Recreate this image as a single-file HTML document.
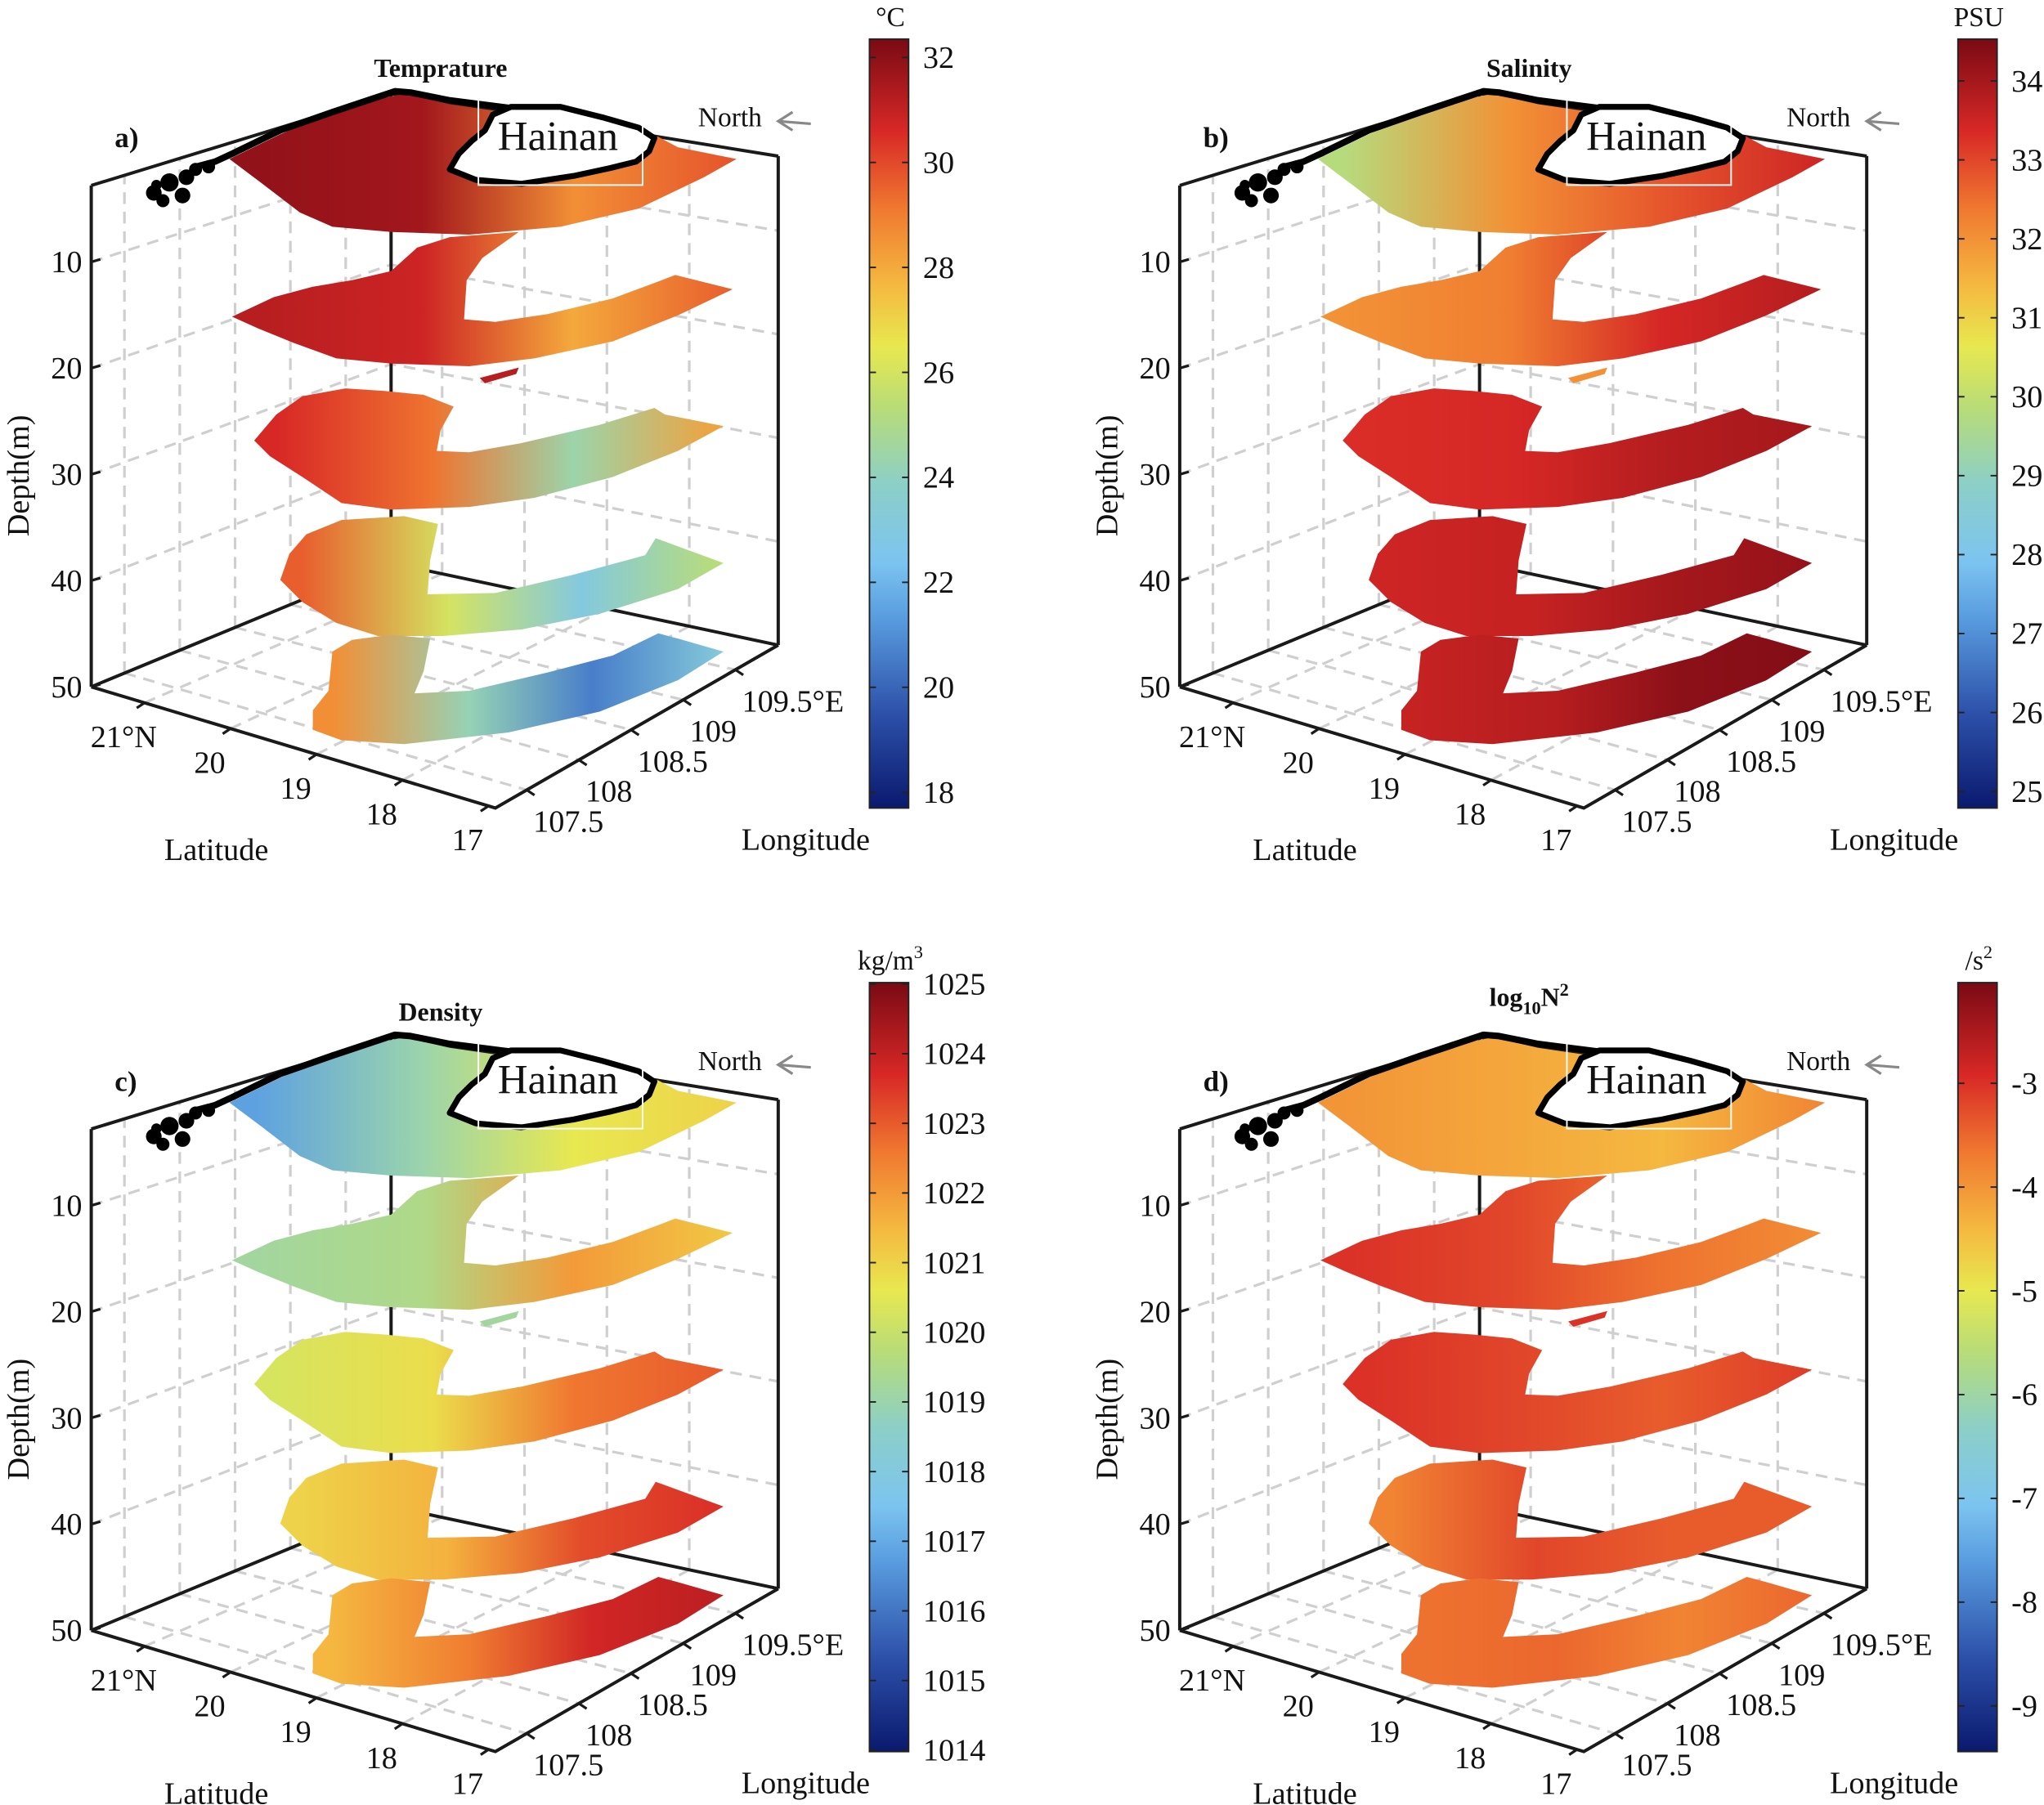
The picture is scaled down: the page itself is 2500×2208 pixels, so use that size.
<!DOCTYPE html>
<html><head><meta charset="utf-8"><style>
html,body{margin:0;padding:0;background:#fff;}
svg{display:block;}
text{font-family:"Liberation Serif","DejaVu Serif",serif;}
</style></head><body>
<svg id="fig" width="2500" height="2208" viewBox="0 0 1568 1385" preserveAspectRatio="none" font-family="Liberation Serif, serif" xmlns="http://www.w3.org/2000/svg"><defs id="defs"></defs></svg>
<script>
// ---- data arrays ----
const panelTitles = ["Temprature","Salinity","Density","log10N2"];
const panelLetters = ["a)","b)","c)","d)"];
const cbDomainA = [17.7, 32.35];
const cbDomainB = [24.79, 34.53];
const cbDomainC = [1013.98, 1025.02];
const cbDomainD = [-9.44, -2.03];
const cbTicksA = [18,20,22,24,26,28,30,32];
const cbTicksB = [25,26,27,28,29,30,31,32,33,34];
const cbTicksC = [1014,1015,1016,1017,1018,1019,1020,1021,1022,1023,1024,1025];
const cbTicksD = [-9,-8,-7,-6,-5,-4,-3];
// slice values: per slice [west blob, blob edge, band, east tip]
const sliceValsA = [[31.9,31.6,28.6,29.8],[31.2,30.8,28.0,29.6],[30.6,29.2,24.4,28.2],[29.6,26.0,23.0,25.4],[28.6,24.2,20.6,23.2]];
const sliceValsB = [[29.8,32.0,32.8,33.5],[32.0,32.3,33.4,33.8],[33.3,33.4,33.8,34.0],[33.5,33.6,34.0,34.2],[33.6,33.8,34.3,34.4]];
const sliceValsC = [[1016.8,1019.0,1020.6,1021.0],[1019.2,1019.5,1022.0,1021.2],[1020.3,1020.8,1022.6,1023.0],[1021.0,1021.6,1023.2,1023.6],[1021.5,1022.5,1023.8,1024.1]];
const sliceValsD = [[-4.0,-4.2,-4.4,-3.8],[-3.0,-3.2,-3.6,-3.9],[-3.0,-3.2,-3.4,-3.1],[-3.8,-3.2,-3.4,-3.4],[-3.6,-3.5,-3.8,-3.5]];
const depthTicks = [10,20,30,40,50];
const latTicks = [21,20,19,18,17];
const latLabels = ["21°N","20","19","18","17"];
const lonTicks = [107.5,108,108.5,109,109.5];
const lonLabels = ["107.5","108","108.5","109","109.5°E"];

const domains=[cbDomainA,cbDomainB,cbDomainC,cbDomainD];
const ticks=[cbTicksA,cbTicksB,cbTicksC,cbTicksD];
const vals=[sliceValsA,sliceValsB,sliceValsC,sliceValsD];
const offsets=[[0,0],[835,0],[0,724],[835,724]];

// ---- geometry ----
const L=[70,527],O=[380,620],R=[597,495],B=[300,432];
const SC=[8.15,8.4,7.95,7.63];
const LAT0=21.62,LATR=4.7,LON0=107.2,LONR=2.71,DTOP=2.8;
function proj(lat,lon,d){
  const u=(LAT0-lat)/LATR, v=(lon-LON0)/LONR;
  const a=(1-u)*(1-v),b=u*(1-v),c=u*v,e=(1-u)*v;
  const x=L[0]*a+O[0]*b+R[0]*c+B[0]*e;
  const y=L[1]*a+O[1]*b+R[1]*c+B[1]*e;
  const s=SC[0]*a+SC[1]*b+SC[2]*c+SC[3]*e;
  return [x,y-(50-d)*s];
}
const LATMIN=LAT0-LATR, LONMAX=LON0+LONR;
const slicePolys=[
 [[176,122],[215,103],[250,88],[285,77],[310,72],[345,80],[400,88],[470,95],[505,105],[520,113],[565,122],[540,136],[490,160],[430,174],[360,180],[300,178],[255,174],[230,163],[200,140]],
 [[178,243],[210,228],[240,220],[270,215],[300,208],[320,190],[345,182],[398,178],[370,198],[358,215],[356,245],[380,247],[420,241],[470,229],[505,216],[518,211],[562,222],[520,242],[470,262],[410,275],[360,281],[300,279],[258,275],[225,263],[198,252]],
 [[195,338],[212,318],[232,304],[265,298],[295,300],[325,303],[348,312],[338,330],[335,346],[360,347],[400,340],[460,326],[502,313],[510,318],[555,327],[520,346],[470,366],[410,382],[360,389],[300,391],[262,386],[232,366],[207,350]],
 [[215,445],[222,425],[235,410],[262,399],[310,396],[336,402],[330,430],[328,456],[380,455],[440,441],[495,426],[503,413],[555,432],[520,452],[460,471],[400,483],[340,488],[290,488],[258,478],[232,462]],
 [[255,500],[270,491],[300,487],[330,490],[325,515],[318,532],[360,530],[420,516],[470,503],[505,486],[520,490],[555,500],[520,522],[460,546],[390,562],[310,571],[262,568],[240,560],[240,545],[252,530]]
];
const fragPoly=[[368,290],[398,282],[396,287],[372,294]];
const hainan=[[345,130],[352,118],[362,108],[372,100],[378,88],[392,82],[430,82],[462,90],[490,98],[502,106],[498,116],[488,124],[468,129],[440,135],[400,141],[365,138]];
const coast=[[150,128],[165,124],[178,118],[215,100],[255,86],[285,76],[303,70],[315,71],[345,77],[400,84]];

// ---- colormap ----
const cmap=[[0,"#0a1a6e"],[0.12,"#2c4fa8"],[0.25,"#5a9ee0"],[0.32,"#7cc4f0"],[0.42,"#8ccfc8"],[0.52,"#b8dc78"],[0.6,"#e8e850"],[0.68,"#f5b840"],[0.78,"#f07830"],[0.88,"#d82826"],[1,"#7a0a14"]];
function hex(h){return [parseInt(h.slice(1,3),16),parseInt(h.slice(3,5),16),parseInt(h.slice(5,7),16)];}
function colorAt(t){
  t=Math.max(0,Math.min(1,t));
  for(let i=1;i<cmap.length;i++){ if(t<=cmap[i][0]){const a=cmap[i-1],b=cmap[i];const f=(t-a[0])/(b[0]-a[0]);const ca=hex(a[1]),cb=hex(b[1]);
    return "rgb("+ca.map((c,k)=>Math.round(c+(cb[k]-c)*f)).join(",")+")";}}
  return cmap[cmap.length-1][1];
}
function colorScale(p,v){const d=domains[p];return colorAt((v-d[0])/(d[1]-d[0]));}

const NS="http://www.w3.org/2000/svg";
const svg=document.getElementById("fig"), defs=document.getElementById("defs");
function mk(tag,attrs,parent){const e=document.createElementNS(NS,tag);for(const k in attrs)e.setAttribute(k,attrs[k]);(parent||svg).appendChild(e);return e;}
function pts(a){return a.map(p=>p[0].toFixed(1)+","+p[1].toFixed(1)).join(" ");}
const FF="Liberation Serif, serif";

const cbg=mk("linearGradient",{id:"cbgrad",x1:"0",y1:"1",x2:"0",y2:"0"},defs);
cmap.forEach(s=>mk("stop",{offset:s[0],"stop-color":s[1]},cbg));

for(let p=0;p<4;p++){
  const g=mk("g",{transform:"translate("+offsets[p][0]+","+offsets[p][1]+")","font-family":FF});
  
  
  const grid=mk("g",{stroke:"#cfcfcf","stroke-width":2,"stroke-dasharray":"9,6",fill:"none"},g);
  
  
  depthTicks.slice(0,4).forEach(d=>{
    const a=proj(LAT0,LON0,d),b=proj(LAT0,LONMAX,d),c=proj(LATMIN,LONMAX,d);
    mk("polyline",{points:pts([a,b,c])},grid);
  });
  lonTicks.forEach(lo=>{const a=proj(LAT0,lo,50),b=proj(LAT0,lo,DTOP),c=proj(LATMIN,lo,50);
    mk("line",{x1:a[0],y1:a[1],x2:b[0],y2:b[1]},grid);mk("line",{x1:a[0],y1:a[1],x2:c[0],y2:c[1]},grid);});
  latTicks.slice(0,4).forEach(la=>{const a=proj(la,LONMAX,50),b=proj(la,LONMAX,DTOP),c=proj(la,LON0,50);
    mk("line",{x1:a[0],y1:a[1],x2:b[0],y2:b[1]},grid);mk("line",{x1:a[0],y1:a[1],x2:c[0],y2:c[1]},grid);});
  const bx=mk("g",{stroke:"#1a1a1a","stroke-width":2.5,fill:"none"},g);
  
  
  const cL=proj(LAT0,LON0,50),cO=proj(LATMIN,LON0,50),cR=proj(LATMIN,LONMAX,50),cB=proj(LAT0,LONMAX,50);
  const tL=proj(LAT0,LON0,DTOP),tR=proj(LATMIN,LONMAX,DTOP),tB=proj(LAT0,LONMAX,DTOP);
  mk("polyline",{points:pts([cL,cB,cR])},bx);
  mk("line",{x1:cB[0],y1:cB[1],x2:tB[0],y2:tB[1]},bx);
  mk("polyline",{points:pts([tL,tB,tR])},bx);
  mk("line",{x1:cL[0],y1:cL[1],x2:tL[0],y2:tL[1]},bx);
  mk("line",{x1:cR[0],y1:cR[1],x2:tR[0],y2:tR[1]},bx);
  slicePolys.forEach((poly,i)=>{
    const xs=poly.map(q=>q[0]);const x0=Math.min(...xs),x1=Math.max(...xs);
    const id="sg"+p+"_"+i;
    const gr=mk("linearGradient",{id:id,gradientUnits:"userSpaceOnUse",x1:x0,y1:0,x2:x1,y2:0},defs);
    const sv=vals[p][i];const offs=[0.05,0.38,0.68,1];
    sv.forEach((v,k)=>mk("stop",{offset:offs[k],"stop-color":colorScale(p,v)},gr));
    const sl=mk("polygon",{points:pts(poly),fill:"url(#"+id+")"},g);
    
    
  });
  const fr=mk("polygon",{points:pts(fragPoly),fill:colorScale(p,vals[p][1][0])},g);
  
  
  const fe=mk("g",{stroke:"#1a1a1a","stroke-width":2.5,fill:"none"},g);
  
  
  mk("polyline",{points:pts([cL,cO,cR])},fe);
  const cs=mk("polyline",{points:pts(coast),fill:"none",stroke:"#000","stroke-width":5,"stroke-linejoin":"round"},g);
  
  
  [[118,148,6],[130,140,7],[143,136,6],[150,130,5],[125,154,5],[140,150,6],[160,128,5],[120,142,4]].forEach(c=>{mk("circle",{cx:c[0],cy:c[1],r:c[2],fill:"#000"},g);});
  const hn=mk("polygon",{points:pts(hainan),fill:"#fff",stroke:"#000","stroke-width":4.5,"stroke-linejoin":"round"},g);
  
  
  const hb=mk("rect",{x:367,y:75,width:126,height:67,fill:"none",stroke:"#fff","stroke-width":1.2},g);
  
  
  const ht=mk("text",{x:428,y:115,"font-size":32,"text-anchor":"middle",fill:"#111"},g);ht.textContent="Hainan";
  
  
  const nt=mk("text",{x:560,y:97,"font-size":21,"text-anchor":"middle",fill:"#111"},g);nt.textContent="North";
  
  
  const na=mk("g",{stroke:"#888","stroke-width":2,fill:"none"},g);
  
  
  mk("line",{x1:622,y1:95,x2:597,y2:93},na);mk("polyline",{points:"608,86 597,93 608,100"},na);
  depthTicks.forEach(d=>{const a=proj(LAT0,LON0,d);
    mk("line",{x1:a[0],y1:a[1],x2:a[0]+7,y2:a[1]-2,stroke:"#1a1a1a","stroke-width":2},g);
    const t=mk("text",{x:63,y:a[1]+8,"font-size":24,"text-anchor":"end",fill:"#111"},g);t.textContent=d;
    
    });
  latTicks.forEach((la,k)=>{const a=proj(la,LON0,50);
    mk("line",{x1:a[0],y1:a[1],x2:a[0]-6,y2:a[1]+4,stroke:"#1a1a1a","stroke-width":2},g);
    const t=mk("text",{x:a[0]-16,y:a[1]+34,"font-size":24,"text-anchor":"middle",fill:"#111"},g);t.textContent=latLabels[k];
    
    });
  lonTicks.forEach((lo,k)=>{const a=proj(LATMIN,lo,50);
    mk("line",{x1:a[0],y1:a[1],x2:a[0]+6,y2:a[1]+4,stroke:"#1a1a1a","stroke-width":2},g);
    const t=mk("text",{x:a[0]+5,y:a[1]+32,"font-size":24,"text-anchor":"start",fill:"#111"},g);t.textContent=lonLabels[k];
    
    });
  const yt=mk("text",{x:0,y:0,"font-size":24,"text-anchor":"middle",transform:"translate(22,365) rotate(-90)",fill:"#111"},g);yt.textContent="Depth(m)";
  
  
  const lt=mk("text",{x:166,y:660,"font-size":24,"text-anchor":"middle",fill:"#111"},g);lt.textContent="Latitude";
  
  
  const ot=mk("text",{x:618,y:652,"font-size":24,"text-anchor":"middle",fill:"#111"},g);ot.textContent="Longitude";
  
  
  const tt=mk("text",{x:338,y:p==3?48:59,"font-size":20,"font-weight":"bold","text-anchor":"middle",fill:"#111"},g);
  
  
  if(p==3){tt.innerHTML='log<tspan font-size="14" dy="6">10</tspan><tspan dy="-6">N</tspan><tspan font-size="14" dy="-8">2</tspan>';}
  else tt.textContent=panelTitles[p];
  const lt2=mk("text",{x:88,y:113,"font-size":22,"font-weight":"bold",fill:"#111"},g);lt2.textContent=panelLetters[p];
  
  
  const cb=mk("rect",{x:667,y:30,width:30,height:590,fill:"url(#cbgrad)",stroke:"#222","stroke-width":1.2},g);
  
  
  const dm=domains[p];
  ticks[p].forEach(v=>{const y=30+(dm[1]-v)/(dm[1]-dm[0])*590;
    mk("line",{x1:667,y1:y,x2:672,y2:y,stroke:"#222","stroke-width":1.2},g);
    mk("line",{x1:692,y1:y,x2:697,y2:y,stroke:"#222","stroke-width":1.2},g);
    const t=mk("text",{x:708,y:y+8,"font-size":24,fill:"#111"},g);t.textContent=v;
    
    });
  const ut=mk("text",{x:683,y:20,"font-size":21,"text-anchor":"middle",fill:"#111"},g);
  
  
  if(p==0)ut.textContent="°C";
  else if(p==1)ut.textContent="PSU";
  else if(p==2)ut.innerHTML='kg/m<tspan font-size="14" dy="-9">3</tspan>';
  else ut.innerHTML='/s<tspan font-size="14" dy="-9">2</tspan>';
}
</script>
</body></html>
